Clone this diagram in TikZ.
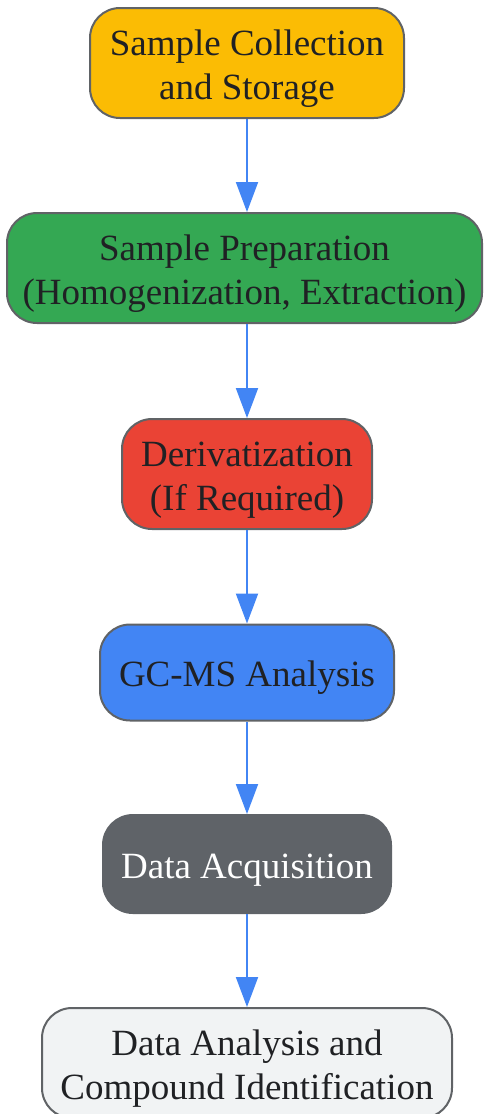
\documentclass[tikz,border=0pt]{standalone}
\usepackage{fontspec}
\setmainfont{Liberation Serif}
\usepackage{tikz}
\usetikzlibrary{arrows.meta,positioning}

\definecolor{stepyellow}{HTML}{FBBC04}
\definecolor{stepgreen}{HTML}{34A853}
\definecolor{stepred}{HTML}{EA4335}
\definecolor{stepblue}{HTML}{4285F4}
\definecolor{stepgray}{HTML}{5F6368}
\definecolor{steplight}{HTML}{F1F3F4}
\definecolor{stepborder}{HTML}{606366}
\definecolor{steptext}{HTML}{202124}
\newcommand{\linestrut}{\rule[-7.5pt]{0pt}{44pt}}

\begin{document}
\begin{tikzpicture}[x=1pt,y=-1pt,
  stagebox/.style={draw=stepborder,line width=2pt,rounded corners=30pt,align=center,
    inner sep=0pt,text=steptext,font=\fontsize{37}{44}\selectfont,
    execute at end node=\linestrut},
  flow/.style={draw=stepblue,line width=2pt,-{Triangle[length=30pt,width=22pt]}}]
  \useasboundingbox (0,0) rectangle (483,1114);
  \node[stagebox,fill=stepyellow,minimum width=314pt,minimum height=110pt] (collect) at (247,63) {\linestrut Sample Collection\\and Storage};
  \node[stagebox,fill=stepgreen,minimum width=475pt,minimum height=110pt] (prep) at (244.5,268) {\linestrut Sample Preparation\\(Homogenization, Extraction)};
  \node[stagebox,fill=stepred,minimum width=250pt,minimum height=110pt] (deriv) at (247,474) {\linestrut Derivatization\\(If Required)};
  \node[stagebox,fill=stepblue,minimum width=294pt,minimum height=96pt] (gcms) at (247,672.5) {\linestrut GC-MS Analysis};
  \node[stagebox,fill=stepgray,draw=stepgray,text=white,minimum width=288pt,minimum height=98pt] (acq) at (247,864) {\linestrut Data Acquisition};
  \node[stagebox,fill=steplight,minimum width=410pt,minimum height=110pt] (analysis) at (247,1063) {\linestrut Data Analysis and\\Compound Identification};
  \draw[flow] (collect) -- (collect |- prep.north);
  \draw[flow] (prep.south -| deriv) -- (deriv);
  \draw[flow] (deriv) -- (gcms);
  \draw[flow] (gcms) -- (acq);
  \draw[flow] (acq) -- (analysis);
\end{tikzpicture}
\end{document}
